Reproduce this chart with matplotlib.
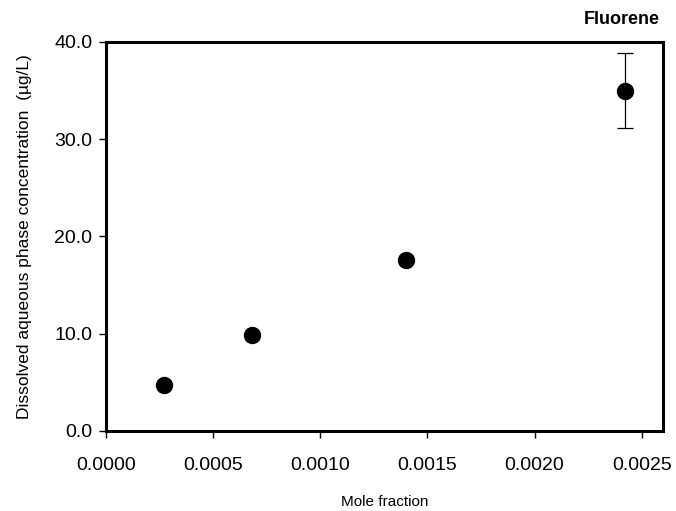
import matplotlib
matplotlib.use("Agg")
import matplotlib.pyplot as plt

plt.rcParams['font.family'] = ['Liberation Sans', 'DejaVu Sans']

mole_fraction = [0.000271, 0.000683, 0.001400, 0.002420]
concentration = [4.7, 9.8, 17.6, 35.0]
conc_err = [0.0, 0.0, 0.0, 3.9]

fig = plt.figure(figsize=(6.76, 5.11), dpi=100)
ax = fig.add_axes([0.157, 0.157, 0.824, 0.761])

ax.errorbar(mole_fraction, concentration, yerr=conc_err, fmt='o', color='black',
            markersize=11.5, ecolor='black', elinewidth=0.9, capsize=6, capthick=0.9)

ax.set_xlim(0, 0.0026)
ax.set_ylim(0, 40)
ax.set_xticks([0.0, 0.0005, 0.0010, 0.0015, 0.0020, 0.0025])
ax.set_xticklabels(["0.0000", "0.0005", "0.0010", "0.0015", "0.0020", "0.0025"])
ax.set_yticks([0, 10, 20, 30, 40])
ax.set_yticklabels(["0.0", "10.0", "20.0", "30.0", "40.0"])
ax.tick_params(axis='both', direction='out', length=5, width=1, labelsize=14)
ax.tick_params(axis='x', pad=14)
ax.tick_params(axis='y', pad=5)

for s in ax.spines.values():
    s.set_linewidth(2.2)

ax.set_xlabel("Mole fraction", fontsize=11, labelpad=15)
ax.set_ylabel("Dissolved aqueous phase concentration  (\u00b5g/L)", fontsize=12.5, labelpad=16)
fig.text(0.976, 0.945, "Fluorene", ha='right', va='bottom', fontsize=13, fontweight='bold')

fig.savefig("out.png", dpi=100)
